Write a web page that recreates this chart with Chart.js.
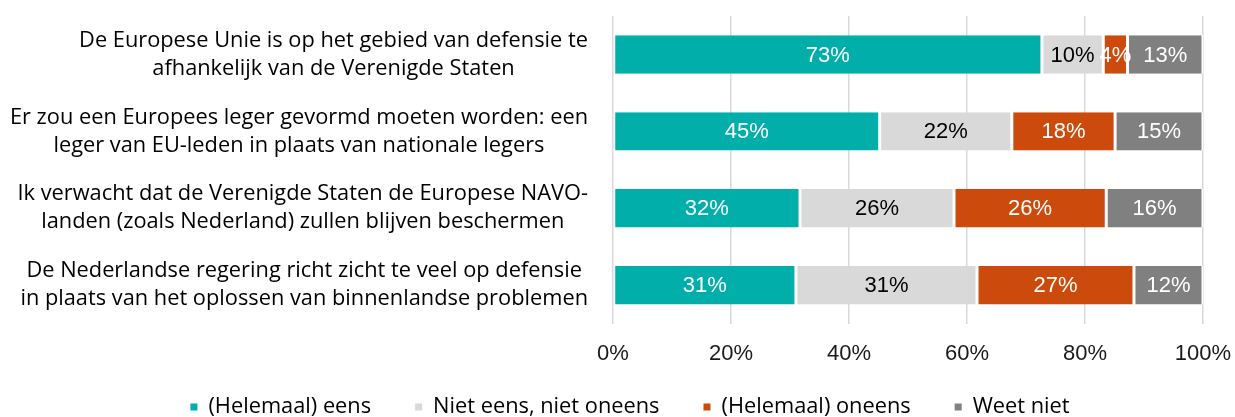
<!DOCTYPE html>
<html lang="nl">
<head>
    <meta charset="UTF-8">
    <title>Defensie stellingen</title>
    <script src="https://cdn.jsdelivr.net/npm/chart.js@4.4.1/dist/chart.umd.min.js"></script>
    <style>
        html, body { margin: 0; padding: 0; background: #fff; }
        #chart-container { width: 1235px; height: 417px; }
    </style>
</head>
<body>
<div id="chart-container">
    <canvas id="chartCanvas"></canvas>
</div>

<script>
    // categories (each one split in two lines, like the original)
    const categories = [
        ["De Europese Unie is op het gebied van defensie te", "afhankelijk van de Verenigde Staten"],
        ["Er zou een Europees leger gevormd moeten worden: een", "leger van EU-leden in plaats van nationale legers"],
        ["Ik verwacht dat de Verenigde Staten de Europese NAVO-", "landen (zoals Nederland) zullen blijven beschermen"],
        ["De Nederlandse regering richt zicht te veel op defensie", "in plaats van het oplossen van binnenlandse problemen"]
    ];
    const seriesNames = ["(Helemaal) eens", "Niet eens, niet oneens", "(Helemaal) oneens", "Weet niet"];
    const eens = [72.7, 45.2, 31.7, 31.0];
    const neutraal = [10.4, 22.4, 26.1, 30.7];
    const oneens = [4.1, 17.5, 25.8, 26.6];
    const weetNiet = [12.8, 14.9, 16.4, 11.7];
    const xTicks = [0, 20, 40, 60, 80, 100];

    const colors = ['#02aeaa', '#d9d9d9', '#cc4a0c', '#808080'];
    const labelColors = ['#ffffff', '#000000', '#ffffff', '#ffffff'];

    const catFont = '21.8px "Open Sans"';
    const numFont = '"Liberation Sans", Arial, sans-serif';

    // percentages inside the bars
    const barLabels = {
        id: 'barLabels',
        afterDatasetsDraw(chart) {
            const ctx = chart.ctx;
            ctx.save();
            ctx.font = '22px ' + numFont;
            ctx.textAlign = 'center';
            ctx.textBaseline = 'middle';
            chart.data.datasets.forEach((ds, i) => {
                chart.getDatasetMeta(i).data.forEach((bar, j) => {
                    const p = bar.getProps(['x', 'y', 'base'], true);
                    ctx.fillStyle = labelColors[i];
                    ctx.fillText(Math.round(ds.data[j]) + '%', (p.x + p.base) / 2, p.y + 1);
                });
            });
            ctx.restore();
        }
    };

    // category labels: right aligned block, lines centred inside it
    const catLabels = {
        id: 'catLabels',
        afterDraw(chart) {
            const ctx = chart.ctx;
            const yScale = chart.scales.y;
            const right = 588;
            ctx.save();
            ctx.font = catFont;
            ctx.fillStyle = '#000';
            ctx.textAlign = 'center';
            ctx.textBaseline = 'middle';
            categories.forEach((lines, j) => {
                const y = yScale.getPixelForValue(j);
                const w = Math.max(...lines.map(l => ctx.measureText(l).width));
                const cx = right - w / 2;
                lines.forEach((l, k) => {
                    ctx.fillText(l, cx, y + (k - (lines.length - 1) / 2) * 28);
                });
            });
            ctx.restore();
        }
    };

    // legend at the bottom
    const bottomLegend = {
        id: 'bottomLegend',
        afterDraw(chart) {
            const ctx = chart.ctx;
            const box = 7, gapText = 11, gapItem = 44, y = 407;
            ctx.save();
            ctx.font = catFont;
            ctx.textBaseline = 'middle';
            ctx.textAlign = 'left';
            const widths = seriesNames.map(n => box + gapText + ctx.measureText(n).width);
            const total = widths.reduce((a, b) => a + b, 0) + gapItem * (seriesNames.length - 1);
            let x = 630 - total / 2;
            seriesNames.forEach((n, i) => {
                ctx.fillStyle = colors[i];
                ctx.fillRect(x, y - box / 2, box, box);
                ctx.fillStyle = '#000';
                ctx.fillText(n, x + box + gapText, y);
                x += widths[i] + gapItem;
            });
            ctx.restore();
        }
    };

    const series = [eens, neutraal, oneens, weetNiet];
    const ctx = document.getElementById('chartCanvas').getContext('2d');
    const myChart = new Chart(ctx, {
        type: 'bar',
        data: {
            labels: categories,
            datasets: series.map((d, i) => ({
                label: seriesNames[i],
                data: d,
                backgroundColor: colors[i],
                borderColor: '#ffffff',
                borderWidth: {left: 1.5, right: 1.5, top: 0, bottom: 0},
                borderSkipped: false,
                categoryPercentage: 0.5,
                barPercentage: 1
            }))
        },
        options: {
            indexAxis: 'y',
            responsive: true,
            maintainAspectRatio: false,
            animation: false,
            layout: {
                padding: {left: 613, right: 0, top: 16, bottom: 33}
            },
            scales: {
                x: {
                    stacked: true,
                    min: 0,
                    max: 100,
                    afterBuildTicks: (scale) => {
                        scale.ticks = xTicks.map(v => ({value: v}));
                    },
                    afterFit: (scale) => {
                        scale.paddingRight = 32;
                    },
                    ticks: {
                        callback: (v) => v + '%',
                        font: {family: numFont, size: 22},
                        color: '#1a1a1a',
                        padding: 17
                    },
                    grid: {
                        color: '#d9d9d9',
                        lineWidth: 1.5,
                        drawTicks: false
                    },
                    border: {display: false}
                },
                y: {
                    stacked: true,
                    display: false
                }
            },
            plugins: {
                legend: {display: false},
                tooltip: {enabled: false}
            }
        },
        plugins: [barLabels, catLabels, bottomLegend]
    });
</script>
</body>
</html>
